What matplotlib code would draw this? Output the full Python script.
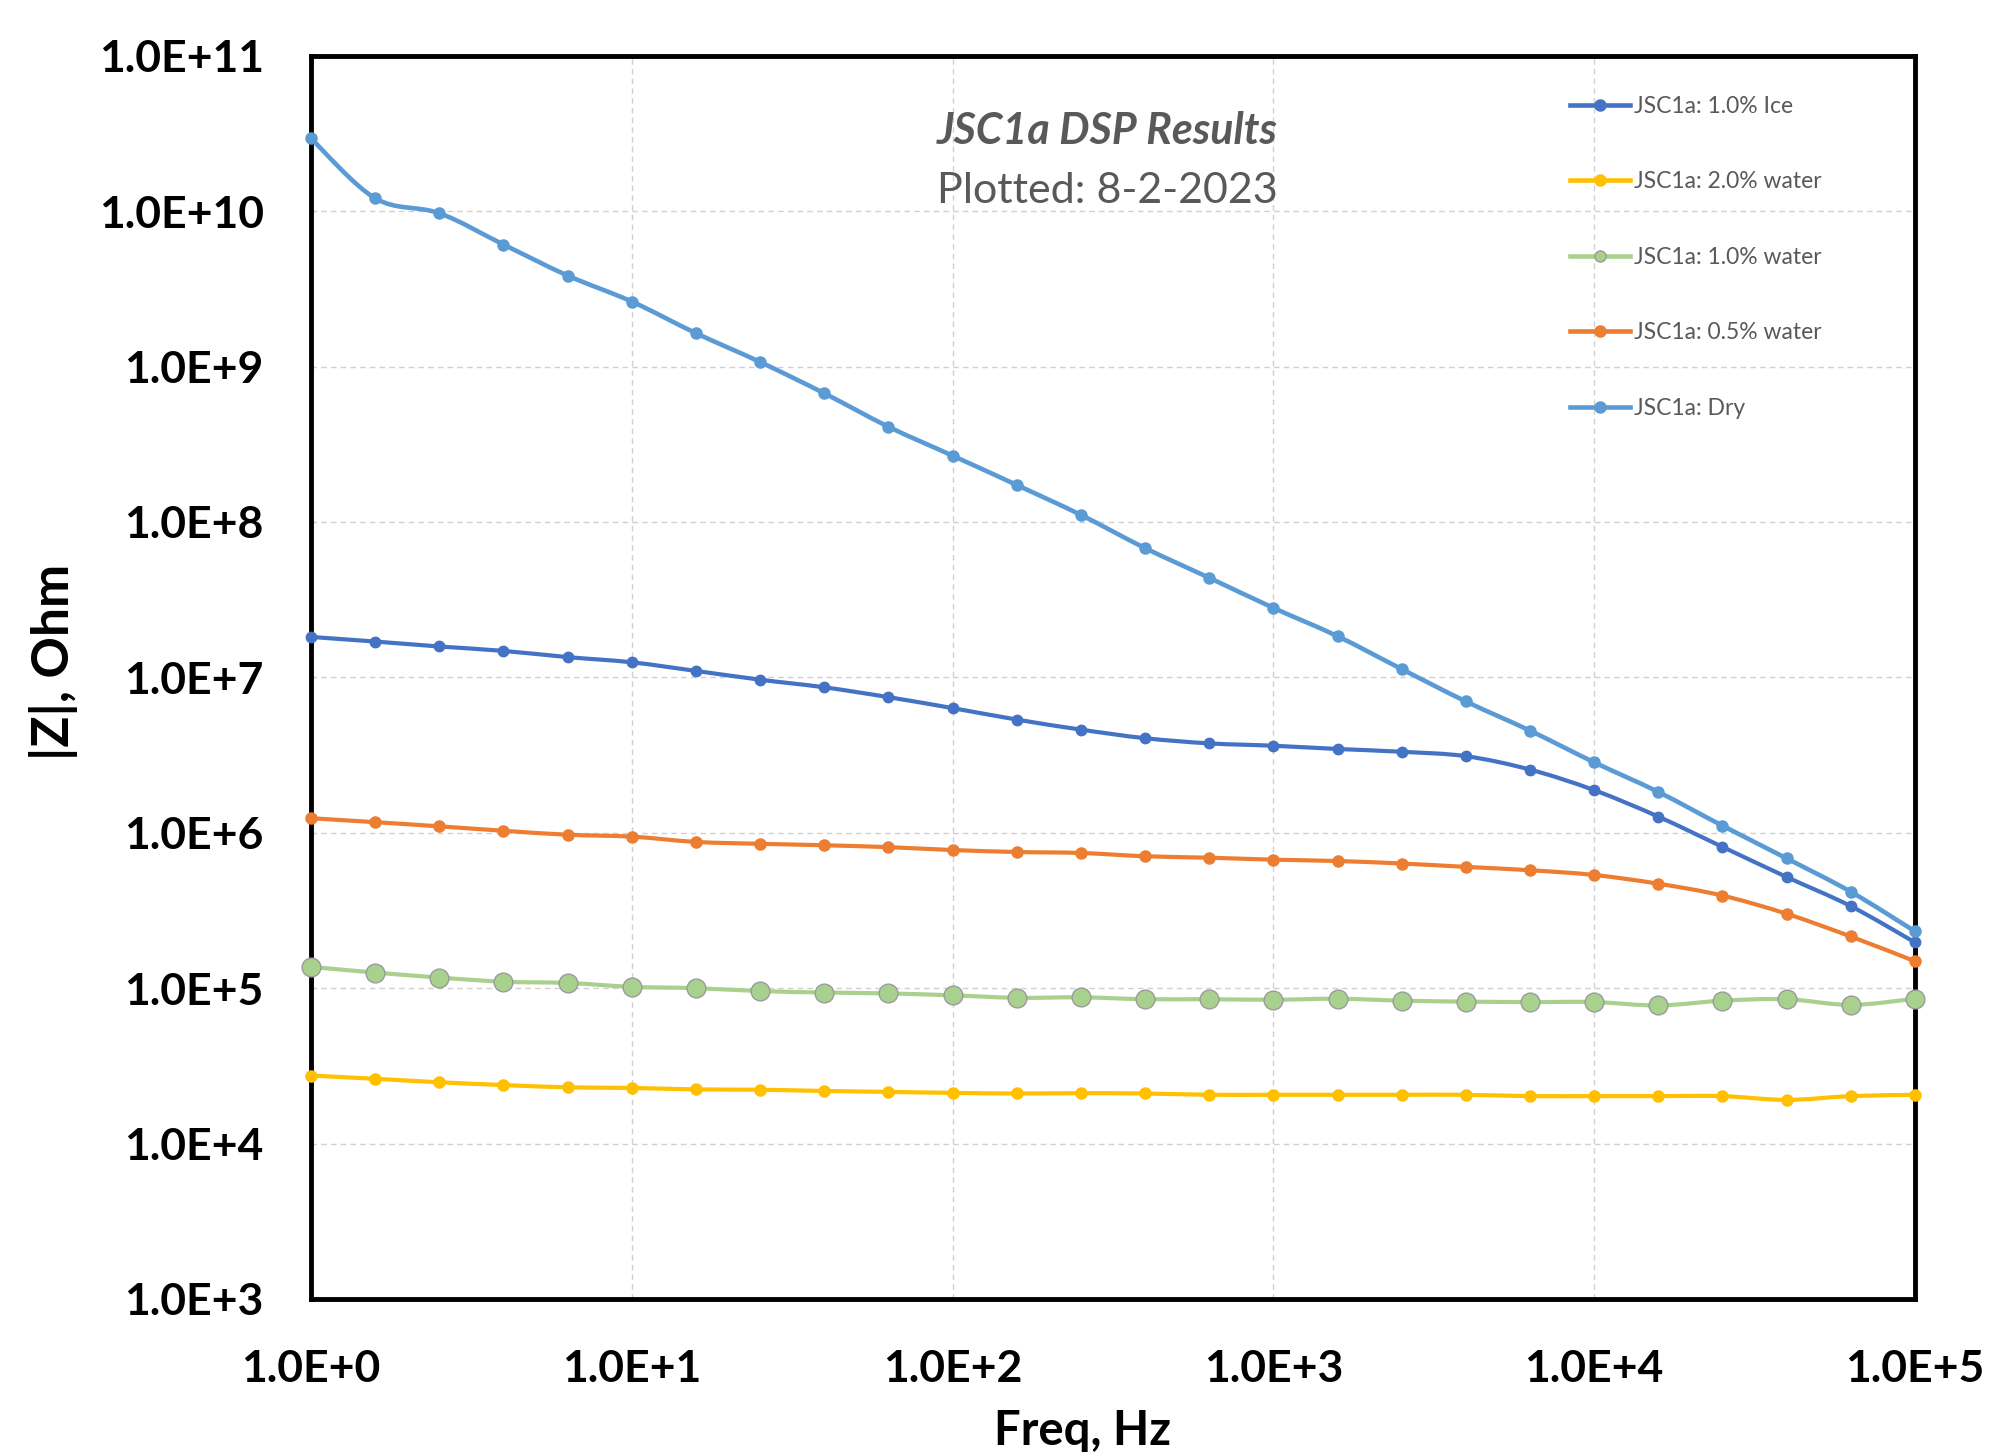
import numpy as np
import matplotlib
matplotlib.use("Agg")
import matplotlib.pyplot as plt
from matplotlib.path import Path
from matplotlib.patches import PathPatch
from matplotlib.lines import Line2D
from matplotlib.ticker import FixedLocator, FuncFormatter

plt.rcParams['font.family'] = ['Lato', 'DejaVu Sans']

freq = [1.0, 1.585, 2.512, 3.981, 6.310, 10.0, 15.85, 25.12, 39.81, 63.10,
        100.0, 158.5, 251.2, 398.1, 631.0, 1000.0, 1585.0, 2512.0, 3981.0, 6310.0,
        10000.0, 15850.0, 25120.0, 39810.0, 63100.0, 100000.0]

ice_1 = [1.82e7, 1.70e7, 1.58e7, 1.48e7, 1.35e7, 1.25e7, 1.10e7, 9.66e6, 8.63e6, 7.46e6,
         6.34e6, 5.35e6, 4.61e6, 4.06e6, 3.76e6, 3.63e6, 3.46e6, 3.32e6, 3.11e6, 2.55e6,
         1.88e6, 1.27e6, 8.11e5, 5.19e5, 3.37e5, 1.97e5]
water_2 = [2.74e4, 2.61e4, 2.48e4, 2.38e4, 2.30e4, 2.28e4, 2.23e4, 2.22e4, 2.18e4, 2.15e4,
           2.12e4, 2.10e4, 2.11e4, 2.10e4, 2.06e4, 2.06e4, 2.06e4, 2.06e4, 2.06e4, 2.02e4,
           2.02e4, 2.02e4, 2.02e4, 1.91e4, 2.02e4, 2.06e4]
water_1 = [1.37e5, 1.26e5, 1.17e5, 1.10e5, 1.08e5, 1.02e5, 1.00e5, 9.58e4, 9.37e4, 9.25e4,
           8.99e4, 8.67e4, 8.73e4, 8.49e4, 8.49e4, 8.42e4, 8.55e4, 8.31e4, 8.19e4, 8.14e4,
           8.14e4, 7.74e4, 8.31e4, 8.49e4, 7.80e4, 8.55e4]
water_05 = [1.24e6, 1.17e6, 1.10e6, 1.03e6, 9.71e5, 9.44e5, 8.73e5, 8.49e5, 8.31e5, 8.08e5,
            7.74e5, 7.52e5, 7.41e5, 7.06e5, 6.91e5, 6.71e5, 6.58e5, 6.34e5, 6.03e5, 5.74e5,
            5.35e5, 4.70e5, 3.94e5, 3.01e5, 2.15e5, 1.49e5]
dry = [2.94e10, 1.21e10, 9.7e9, 6.1e9, 3.85e9, 2.62e9, 1.64e9, 1.07e9, 6.73e8, 4.10e8,
       2.67e8, 1.73e8, 1.11e8, 6.79e7, 4.37e7, 2.80e7, 1.84e7, 1.13e7, 7.0e6, 4.54e6,
       2.84e6, 1.83e6, 1.11e6, 6.84e5, 4.17e5, 2.32e5]

series_labels = ["JSC1a: 1.0% Ice", "JSC1a: 2.0% water", "JSC1a: 1.0% water",
                 "JSC1a: 0.5% water", "JSC1a: Dry"]
series_values = [ice_1, water_2, water_1, water_05, dry]
series_colors = ["#4472C4", "#FFC000", "#A9D18E", "#ED7D31", "#5B9BD5"]

y_ticks = [1e3, 1e4, 1e5, 1e6, 1e7, 1e8, 1e9, 1e10, 1e11]
x_ticks = [1e0, 1e1, 1e2, 1e3, 1e4, 1e5]

title_1 = "JSC1a DSP Results"
title_2 = "Plotted: 8-2-2023"
x_label = "Freq, Hz"
y_label = "|Z|, Ohm"


def smooth_path(x, y):
    lx = np.log10(np.asarray(x, float))
    ly = np.log10(np.asarray(y, float))
    P = np.column_stack([lx, ly])
    n = len(P)
    verts = [P[0]]
    codes = [Path.MOVETO]
    for i in range(n - 1):
        p0 = P[i - 1] if i > 0 else P[i]
        p1 = P[i]
        p2 = P[i + 1]
        p3 = P[i + 2] if i + 2 < n else P[i + 1]
        c1 = p1 + (p2 - p0) / 6.0
        c2 = p2 - (p3 - p1) / 6.0
        verts += [c1, c2, p2]
        codes += [Path.CURVE4] * 3
    verts = 10 ** np.array(verts)
    return Path(verts, codes)


fig = plt.figure(figsize=(19.96, 14.52), dpi=100)
ax = fig.add_axes([0.1558, 0.1054, 0.8036, 0.8562])
ax.set_xscale('log')
ax.set_yscale('log')
ax.set_xlim(1e0, 1e5)
ax.set_ylim(1e3, 1e11)

ax.xaxis.set_major_locator(FixedLocator(x_ticks))
ax.yaxis.set_major_locator(FixedLocator(y_ticks))
ax.xaxis.set_minor_locator(FixedLocator([]))
ax.yaxis.set_minor_locator(FixedLocator([]))
fmt = FuncFormatter(lambda v, p: "1.0E+%d" % int(round(np.log10(v))))
ax.xaxis.set_major_formatter(fmt)
ax.yaxis.set_major_formatter(fmt)

ax.grid(True, which='major', color='#D0D0D0', linestyle=(0, (4, 3)), linewidth=1.0)
ax.set_axisbelow(True)
ax.tick_params(axis='both', length=0, labelsize=32, colors='black')
ax.tick_params(axis='y', pad=34)
ax.tick_params(axis='x', pad=36)
for lab in ax.get_xticklabels() + ax.get_yticklabels():
    lab.set_fontweight('bold')

for sp in ax.spines.values():
    sp.set_linewidth(3.5)
    sp.set_color('black')

msizes = [7.5, 8, 13.5, 8, 8]
lwidths = [3.0, 3.0, 3.0, 3.0, 3.3]
handles = []
for i, (lab, vals, col) in enumerate(zip(series_labels, series_values, series_colors)):
    path = smooth_path(freq, vals)
    patch = PathPatch(path, facecolor='none', edgecolor=col, linewidth=lwidths[i],
                      transform=ax.transData, clip_on=False, zorder=3 + i,
                      capstyle='round', joinstyle='round')
    ax.add_patch(patch)
    mec = '#9a9a9a' if lab == "JSC1a: 1.0% water" else col
    ax.plot(freq, vals, linestyle='none', marker='o', markersize=msizes[i],
            markerfacecolor=col, markeredgecolor=mec, markeredgewidth=1.0,
            clip_on=False, zorder=3.5 + i)
    handles.append(Line2D([], [], color=col, linewidth=3.3, marker='o',
                          markersize=8, markerfacecolor=col, markeredgecolor=mec,
                          markeredgewidth=1.0))

leg = ax.legend(handles, series_labels, loc='upper left', bbox_to_anchor=(0.785, 0.968),
                frameon=False, fontsize=16.5, labelspacing=2.38, handlelength=2.6,
                handletextpad=0.2, borderpad=0, borderaxespad=0)
for t in leg.get_texts():
    t.set_color('#595959')

fig.text(0.5546, 1 - 131 / 1452, title_1, ha='center', va='center', fontsize=31,
         fontweight='bold', fontstyle='italic', color='#595959')
fig.text(0.5546, 1 - 191 / 1452, title_2, ha='center', va='center', fontsize=31,
         color='#595959')

fig.text(53 / 1996, 1 - 662 / 1452, y_label, rotation=90, ha='center', va='center',
         fontsize=37, fontweight='bold')
fig.text(1083 / 1996, 1 - 1431 / 1452, x_label, ha='center', va='center',
         fontsize=34, fontweight='bold')

fig.savefig("out.png", dpi=100, facecolor='white')
